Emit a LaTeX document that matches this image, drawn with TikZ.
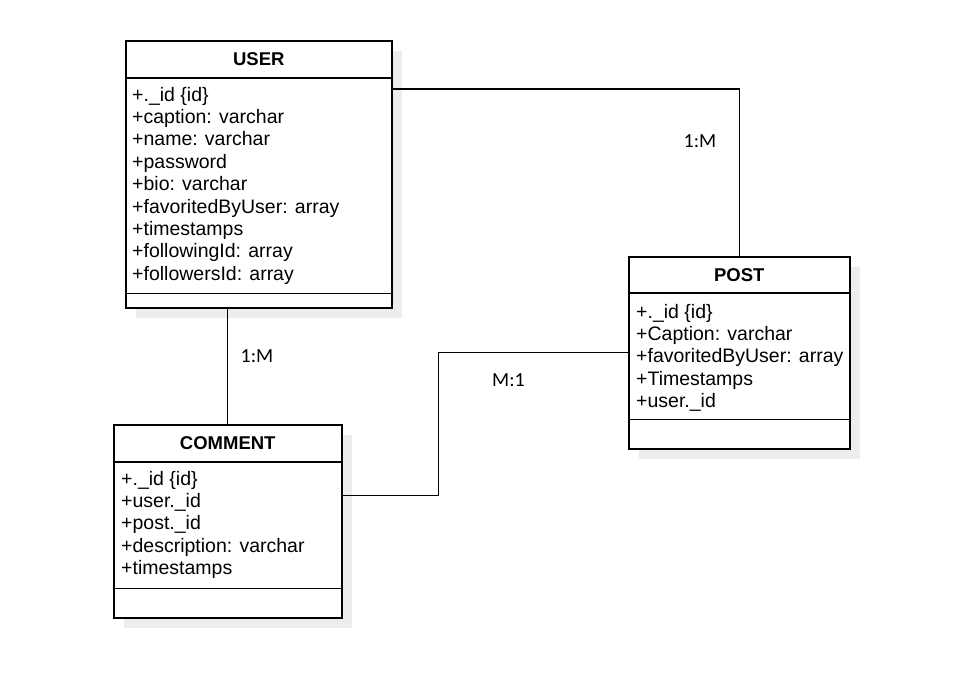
\documentclass[tikz,border=0pt]{standalone}
\usepackage{fontspec}
\setmainfont{Liberation Sans}
\newfontfamily\labelfont{Carlito}
\usetikzlibrary{shadows}
\tikzset{
  classbox/.style={draw, line width=1.5pt, fill=white, inner sep=0pt, anchor=north west,
    drop shadow={shadow xshift=10pt, shadow yshift=-10pt, fill=black!7, opacity=1}},
  classname/.style={font=\fontsize{18.5}{22}\selectfont\bfseries},
  attr/.style={font=\fontsize{19.5}{22.4}\selectfont, anchor=base west, inner sep=0pt},
  link/.style={line width=1.2pt},
  mult/.style={font=\labelfont\fontsize{20}{24}\selectfont}
}

\begin{document}
\begin{tikzpicture}[x=1pt, y=1pt]
      \fill[white] (0,0) rectangle (961,-675);
      \useasboundingbox (0,0) rectangle (961,-675);

      % User
      \node[classbox, minimum width=266pt, minimum height=267pt] (user) at (125,-40) {};
      \draw[line width=1.5pt] ([yshift=-38pt]user.north west) -- ([yshift=-38pt]user.north east);
      \draw[line width=1.5pt] ([yshift=15pt]user.south west) -- ([yshift=15pt]user.south east);
      \node[classname] (usertitle) at ([yshift=-19pt]user.north) {USER};
      \foreach \txt [count=\i from 0] in {+.\_id \{id\}, +caption: varchar, +name: varchar, +password,
          +bio: varchar, +favoritedByUser: array, +timestamps, +followingId: array, +followersId: array}
        \node[attr] at ([xshift=7pt, yshift=-61pt-\i*22.4pt]user.north west) {\txt};

      % Post
      \node[classbox, minimum width=221pt, minimum height=192pt] (post) at (628,-256) {};
      \draw[line width=1.5pt] ([yshift=-37pt]post.north west) -- ([yshift=-37pt]post.north east);
      \draw[line width=1.5pt] ([yshift=30pt]post.south west) -- ([yshift=30pt]post.south east);
      \node[classname] (posttitle) at ([yshift=-19pt]post.north) {POST};
      \foreach \txt [count=\i from 0] in {+.\_id \{id\}, +Caption: varchar, +favoritedByUser: array,
          +Timestamps, +user.\_id}
        \node[attr] at ([xshift=8pt, yshift=-62pt-\i*22.4pt]post.north west) {\txt};

      % Comment
      \node[classbox, minimum width=228pt, minimum height=193pt] (comment) at (113,-424) {};
      \draw[line width=1.5pt] ([yshift=-38pt]comment.north west) -- ([yshift=-38pt]comment.north east);
      \draw[line width=1.5pt] ([yshift=30pt]comment.south west) -- ([yshift=30pt]comment.south east);
      \node[classname] (commenttitle) at ([yshift=-19pt]comment.north) {COMMENT};
      \foreach \txt [count=\i from 0] in {+.\_id \{id\}, +user.\_id, +post.\_id,
          +description: varchar, +timestamps}
        \node[attr] at ([xshift=8pt, yshift=-61.5pt-\i*22.2pt]comment.north west) {\txt};

      % Links
      \draw[link] ([yshift=-49pt]user.north east) -| (post.north);
      \draw[link] (comment.north) -- (comment.north |- user.south);
      \draw[link] ([yshift=25.5pt]comment.east) -- ++(96,0) |- (post.west);

      % Multiplicities
      \node[mult] (userpost) at (700,-141) {1:M};
      \node[mult] (usercomment) at (257,-356) {1:M};
      \node[mult] (commentpost) at (508.5,-380) {M:1};

    \end{tikzpicture}
\end{document}
